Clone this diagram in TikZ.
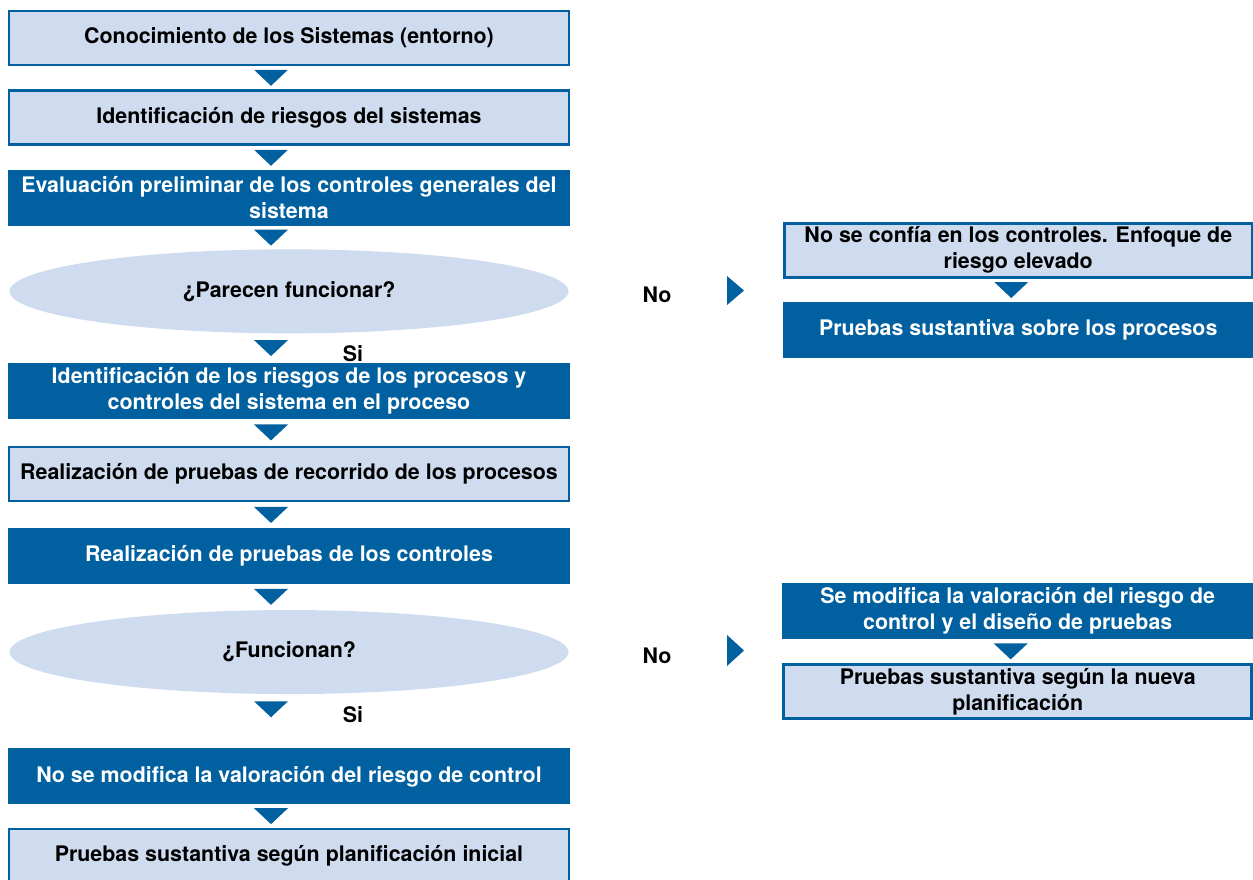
\documentclass[tikz,border=0pt]{standalone}
\usepackage{fontspec}
\setmainfont{TeX Gyre Heros}
\usepackage{tikz}
\usetikzlibrary{shapes.geometric, positioning, calc}
\definecolor{azul}{RGB}{0,96,160}
\definecolor{celeste}{RGB}{207,219,238}
\tikzstyle{texto} = [font=\bfseries\fontsize{21.4}{26}\selectfont, align=center, inner sep=0pt]
\tikzstyle{claro} = [texto, rectangle, minimum width=560pt, minimum height=54pt, draw=azul, line width=2.5pt, fill=celeste, text=black]
\tikzstyle{oscuro} = [texto, rectangle, minimum width=562pt, minimum height=56pt, fill=azul, text=white]
\tikzstyle{decision} = [texto, ellipse, minimum width=559pt, minimum height=84pt, fill=celeste, text=black]
\tikzstyle{etiqueta} = [texto, text=black]
\newcommand{\flecha}[3]{\fill[azul] ($(#1.south)!.5!(#2.north)+(#3-17,-8)$) -- ++(34,0) -- ++(-17,16) -- cycle;}
\begin{document}
\begin{tikzpicture}[x=1pt, y=-1pt]
    \useasboundingbox (0,0) rectangle (1253,879);
    % Columna izquierda
    \node[claro] (conoc) at (289,38) {Conocimiento de los Sistemas (entorno)};
    \node[claro, below=23pt of conoc] (ident) {Identificación de riesgos del sistemas};
    \node[oscuro, below=24pt of ident] (evalua) {Evaluación preliminar de los controles generales del\\sistema};
    \node[decision, below=23pt of evalua] (parecen) {¿Parecen funcionar?};
    \node[oscuro, below=29pt of parecen] (riesgos) {Identificación de los riesgos de los procesos y\\controles del sistema en el proceso};
    \node[claro, below=27pt of riesgos] (recorrido) {Realización de pruebas de recorrido de los procesos};
    \node[oscuro, below=25pt of recorrido] (pruebas) {Realización de pruebas de los controles};
    \node[decision, below=26pt of pruebas] (funcionan) {¿Funcionan?};
    \node[oscuro, below=54pt of funcionan] (nomodif) {No se modifica la valoración del riesgo de control};
    \node[claro, below=23pt of nomodif] (inicial) {Pruebas sustantiva según planificación inicial};

    % Columna derecha
    \node[claro, minimum width=468pt, anchor=north west] (noconfia) at (783,222) {No se confía en los controles. Enfoque de\\riesgo elevado};
    \node[oscuro, minimum width=471pt, below=23pt of noconfia] (sobre) {Pruebas sustantiva sobre los procesos};
    \node[oscuro, minimum width=471pt, anchor=north west] (semodif) at (782,583) {Se modifica la valoración del riesgo de\\control y el diseño de pruebas};
    \node[claro, minimum width=468pt, below=24pt of semodif] (nueva) {Pruebas sustantiva según la nueva\\planificación};

    % Etiquetas
    \node[etiqueta] (si1) at (353,354) {Si};
    \node[etiqueta] (si2) at (353,715) {Si};
    \node[etiqueta] (no1) at (657,295) {No};
    \node[etiqueta] (no2) at (657,656) {No};

    % Flechas
    \flecha{conoc}{ident}{-18}
    \flecha{ident}{evalua}{-18}
    \flecha{evalua}{parecen}{-18}
    \flecha{parecen}{riesgos}{-18}
    \flecha{riesgos}{recorrido}{-18}
    \flecha{recorrido}{pruebas}{-18}
    \flecha{pruebas}{funcionan}{-18}
    \fill[azul] ($(funcionan.south)+(-35,7)$) -- ++(34,0) -- ++(-17,16) -- cycle;
    \flecha{nomodif}{inicial}{-18}
    \flecha{noconfia}{sobre}{-7}
    \flecha{semodif}{nueva}{-7}
    \fill[azul] ($(no1)+(70,-19)$) -- ++(17,14.5) -- ++(-17,14.5) -- cycle;
    \fill[azul] ($(no2)+(70,-21)$) -- ++(17,15.5) -- ++(-17,15.5) -- cycle;
\end{tikzpicture}
\end{document}
